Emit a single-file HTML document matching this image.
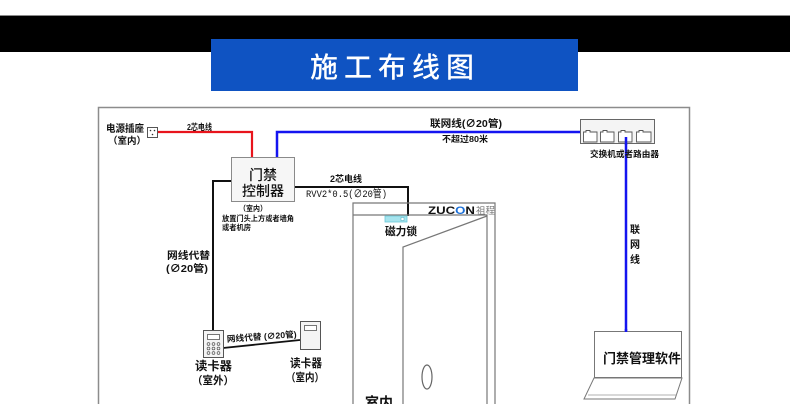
<!DOCTYPE html>
<html><head><meta charset="utf-8"><style>
html,body{margin:0;padding:0;background:#fff;width:790px;height:404px;overflow:hidden;}
svg{display:block;overflow:hidden;}
text{font-family:"Liberation Sans","Noto Sans CJK SC",sans-serif;font-weight:bold;fill:#111;}
</style></head><body>
<svg width="790" height="404" viewBox="0 0 790 404" xmlns="http://www.w3.org/2000/svg">
<defs><clipPath id="c"><rect x="0" y="0" width="790" height="404"/></clipPath></defs>
<g clip-path="url(#c)">
<rect x="0" y="0" width="790" height="404" fill="#fff"/>
<!-- black band -->
<rect x="0" y="15" width="790" height="37" fill="#000"/>
<line x1="0" y1="15.5" x2="790" y2="15.5" stroke="#8a8a8a" stroke-width="1"/>
<!-- title -->
<rect x="211" y="39" width="367" height="52" fill="#0f53c2"/>
<text x="395" y="77" text-anchor="middle" font-size="28" style="fill:#fff;font-weight:500;letter-spacing:6px" textLength="170" lengthAdjust="spacing">施工布线图</text>
<!-- frame -->
<polyline points="98.5,404 98.5,107.5 689.5,107.5 689.5,404" fill="none" stroke="#8c8c8c" stroke-width="1.5"/>

<!-- socket -->
<rect x="147.5" y="127.5" width="10" height="10" fill="#fff" stroke="#555" stroke-width="1"/>
<circle cx="150.5" cy="130.5" r="0.8" fill="#333"/><circle cx="154.5" cy="130.5" r="0.8" fill="#333"/><circle cx="152.5" cy="134.5" r="0.8" fill="#333"/>
<text x="106" y="132" font-size="10" textLength="38" lengthAdjust="spacingAndGlyphs">电源插座</text>
<text x="108" y="144" font-size="9.5" textLength="38" lengthAdjust="spacingAndGlyphs">（室内）</text>
<text x="187" y="130" font-size="8.5" textLength="25" lengthAdjust="spacingAndGlyphs">2芯电线</text>

<!-- red line -->
<polyline points="158,132 252,132 252,157" fill="none" stroke="#e8141c" stroke-width="2.2"/>
<!-- blue line top -->
<polyline points="277,157 277,132 581,132" fill="none" stroke="#1414f0" stroke-width="2.5"/>
<!-- blue vertical -->
<line x1="626" y1="137" x2="626" y2="331" stroke="#1414f0" stroke-width="2.5"/>

<!-- controller -->
<rect x="231.5" y="157.5" width="63" height="44" fill="#f6f6f6" stroke="#8a8a8a" stroke-width="1"/>
<text x="263" y="180" font-size="14" text-anchor="middle" style="font-weight:500">门禁</text>
<text x="263" y="196" font-size="14" text-anchor="middle" style="font-weight:500">控制器</text>
<text x="239" y="211" font-size="7.5" textLength="28" lengthAdjust="spacingAndGlyphs">（室内）</text>
<text x="222" y="221" font-size="7.3" textLength="72" lengthAdjust="spacingAndGlyphs">放置门头上方或者墙角</text>
<text x="222" y="230" font-size="7.3" textLength="29" lengthAdjust="spacingAndGlyphs">或者机房</text>

<!-- black lines -->
<polyline points="231,181 213,181 213,331" fill="none" stroke="#111" stroke-width="2"/>
<polyline points="295,187 408,187 408,216" fill="none" stroke="#111" stroke-width="2"/>
<text x="330" y="182" font-size="9" textLength="32" lengthAdjust="spacingAndGlyphs">2芯电线</text>
<text x="306" y="197" font-size="10.5" style="font-family:'Liberation Mono','Noto Sans CJK SC',monospace;font-weight:normal" textLength="81" lengthAdjust="spacingAndGlyphs">RVV2*0.5(∅20管)</text>

<!-- network labels -->
<text x="430" y="127" font-size="10" textLength="72" lengthAdjust="spacingAndGlyphs">联网线(∅20管)</text>
<text x="442" y="142" font-size="8.5" textLength="46" lengthAdjust="spacingAndGlyphs">不超过80米</text>

<!-- door -->
<polyline points="353,404 353,203 495,203 495,404" fill="none" stroke="#777" stroke-width="1.2"/>
<line x1="353" y1="215" x2="487" y2="215" stroke="#777" stroke-width="1.2"/>
<line x1="487" y1="215" x2="487" y2="404" stroke="#777" stroke-width="1.2"/>
<polyline points="487,216 403,247 403,404" fill="none" stroke="#777" stroke-width="1.2"/>
<ellipse cx="427" cy="377" rx="5" ry="12" fill="none" stroke="#666" stroke-width="1.2"/>
<text x="428" y="214" font-size="11" textLength="47" lengthAdjust="spacingAndGlyphs">ZUC<tspan style="fill:#1a6fd8">O</tspan>N</text>
<text x="476" y="214" font-size="9.5" style="fill:#777;font-weight:normal" textLength="19" lengthAdjust="spacingAndGlyphs">祖程</text>
<!-- mag lock -->
<rect x="385" y="216" width="22" height="6" fill="#a6e4ee" stroke="#6cc8d8" stroke-width="0.8"/>
<rect x="401" y="217.5" width="3" height="3" fill="#fff" stroke="#4ab" stroke-width="0.5"/>
<text x="385" y="235" font-size="11" textLength="32" lengthAdjust="spacingAndGlyphs">磁力锁</text>
<text x="365" y="408" font-size="15" textLength="28" lengthAdjust="spacingAndGlyphs">室内</text>

<!-- switch -->
<rect x="580.5" y="119.5" width="74" height="24" fill="#f4f4f4" stroke="#666" stroke-width="1"/>
<g fill="#fff" stroke="#555" stroke-width="0.9">
<path d="M583.5,142 V132 H586 V130.5 H590 V132 H597 V142 Z"/>
<path d="M600.5,142 V132 H603 V130.5 H607 V132 H614 V142 Z"/>
<path d="M618.5,142 V132 H621 V130.5 H625 V132 H632 V142 Z"/>
<path d="M636.5,142 V132 H639 V130.5 H643 V132 H651 V142 Z"/>
</g>
<line x1="626" y1="137" x2="626" y2="145" stroke="#1414f0" stroke-width="2.5"/>
<text x="590" y="157" font-size="8.5" textLength="69" lengthAdjust="spacingAndGlyphs">交换机或者路由器</text>
<text x="630" y="233" font-size="10">联</text>
<text x="630" y="248" font-size="10">网</text>
<text x="630" y="263" font-size="10">线</text>

<!-- laptop -->
<rect x="594.5" y="331.5" width="87" height="46" fill="#fff" stroke="#777" stroke-width="1"/>
<polygon points="594,378 682,378 675,399 584,399" fill="#fff" stroke="#777" stroke-width="1"/>
<line x1="588" y1="395" x2="677" y2="395" stroke="#999" stroke-width="0.8"/>
<line x1="626" y1="329" x2="626" y2="332" stroke="#1414f0" stroke-width="2.5"/>
<text x="603" y="363" font-size="13" textLength="78" lengthAdjust="spacingAndGlyphs">门禁管理软件</text>

<!-- readers -->
<text x="167" y="259" font-size="10" textLength="43" lengthAdjust="spacingAndGlyphs">网线代替</text>
<text x="166" y="272" font-size="10" textLength="42" lengthAdjust="spacingAndGlyphs">(∅20管)</text>
<line x1="223" y1="348" x2="300" y2="340" stroke="#111" stroke-width="1.8"/>
<text x="227" y="342" font-size="8.5" transform="rotate(-4 227 342)" textLength="70" lengthAdjust="spacingAndGlyphs">网线代替 (∅20管)</text>
<rect x="203.5" y="330.5" width="20" height="27" fill="#f4f4f4" stroke="#555" stroke-width="1"/>
<rect x="207.5" y="334.5" width="12" height="5" fill="#fff" stroke="#555" stroke-width="0.8"/>
<g fill="none" stroke="#555" stroke-width="0.7">
<circle cx="208.5" cy="344" r="1.4"/><circle cx="213.5" cy="344" r="1.4"/><circle cx="218.5" cy="344" r="1.4"/>
<circle cx="208.5" cy="348.5" r="1.4"/><circle cx="213.5" cy="348.5" r="1.4"/><circle cx="218.5" cy="348.5" r="1.4"/>
<circle cx="208.5" cy="353" r="1.4"/><circle cx="213.5" cy="353" r="1.4"/><circle cx="218.5" cy="353" r="1.4"/>
</g>
<rect x="300.5" y="321.5" width="20" height="28" fill="#f4f4f4" stroke="#555" stroke-width="1"/>
<rect x="304.5" y="325.5" width="12" height="5" fill="#fff" stroke="#555" stroke-width="0.8"/>
<text x="195" y="370" font-size="12" textLength="37" lengthAdjust="spacingAndGlyphs">读卡器</text>
<text x="192" y="384" font-size="11" textLength="42" lengthAdjust="spacingAndGlyphs">（室外）</text>
<text x="290" y="367" font-size="11.5" textLength="32" lengthAdjust="spacingAndGlyphs">读卡器</text>
<text x="286" y="381" font-size="11" textLength="38" lengthAdjust="spacingAndGlyphs">（室内）</text>
</g>
</svg>
</body></html>
